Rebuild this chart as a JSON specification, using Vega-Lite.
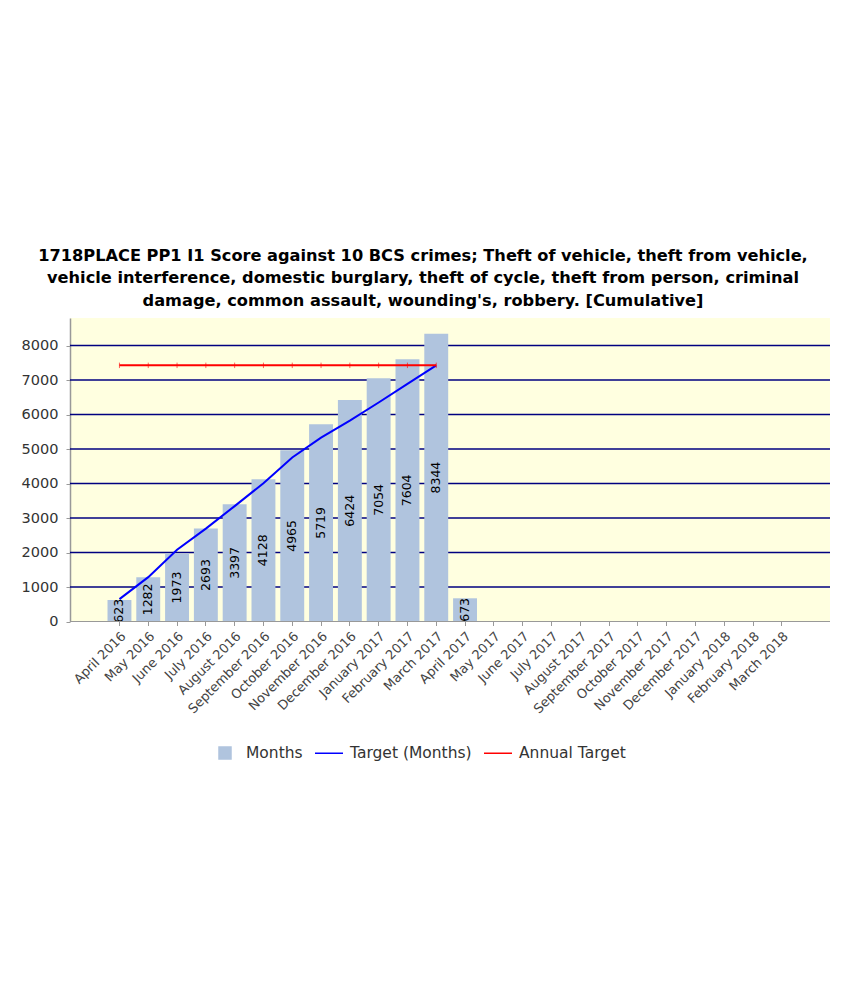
{
  "$schema": "https://vega.github.io/schema/vega-lite/v6.json",
  "width": 760,
  "height": 303.5,
  "autosize": {"type": "none"},
  "padding": {"left": 70, "top": 318, "right": 15, "bottom": 176.5},
  "background": "white",
  "title": {
    "text": [
      "1718PLACE PP1 I1 Score against 10 BCS crimes; Theft of vehicle, theft from vehicle,",
      "vehicle interference, domestic burglary, theft of cycle, theft from person, criminal",
      "damage, common assault, wounding's, robbery. [Cumulative]"
    ],
    "font": "DejaVu Sans",
    "fontSize": 16.2,
    "fontWeight": "bold",
    "color": "#000000",
    "lineHeight": 22.5,
    "anchor": "middle",
    "dx": -27,
    "offset": 9
  },
  "config": {
    "view": {"fill": "#FFFFE0", "stroke": null},
    "font": "DejaVu Sans"
  },
  "datasets": {
    "gridlines": [
      {"level": 1000}, {"level": 2000}, {"level": 3000}, {"level": 4000},
      {"level": 5000}, {"level": 6000}, {"level": 7000}, {"level": 8000}
    ]
  },
  "data": {
    "values": [
      {"month": "April 2016", "months": 623, "target": 649, "annual": 7427},
      {"month": "May 2016", "months": 1282, "target": 1286, "annual": 7427},
      {"month": "June 2016", "months": 1973, "target": 2079, "annual": 7427},
      {"month": "July 2016", "months": 2693, "target": 2693, "annual": 7427},
      {"month": "August 2016", "months": 3397, "target": 3346, "annual": 7427},
      {"month": "September 2016", "months": 4128, "target": 4009, "annual": 7427},
      {"month": "October 2016", "months": 4965, "target": 4757, "annual": 7427},
      {"month": "November 2016", "months": 5719, "target": 5331, "annual": 7427},
      {"month": "December 2016", "months": 6424, "target": 5823, "annual": 7427},
      {"month": "January 2017", "months": 7054, "target": 6350, "annual": 7427},
      {"month": "February 2017", "months": 7604, "target": 6888, "annual": 7427},
      {"month": "March 2017", "months": 8344, "target": 7427, "annual": 7427},
      {"month": "April 2017", "months": 673, "target": null, "annual": null},
      {"month": "May 2017", "months": null, "target": null, "annual": null},
      {"month": "June 2017", "months": null, "target": null, "annual": null},
      {"month": "July 2017", "months": null, "target": null, "annual": null},
      {"month": "August 2017", "months": null, "target": null, "annual": null},
      {"month": "September 2017", "months": null, "target": null, "annual": null},
      {"month": "October 2017", "months": null, "target": null, "annual": null},
      {"month": "November 2017", "months": null, "target": null, "annual": null},
      {"month": "December 2017", "months": null, "target": null, "annual": null},
      {"month": "January 2018", "months": null, "target": null, "annual": null},
      {"month": "February 2018", "months": null, "target": null, "annual": null},
      {"month": "March 2018", "months": null, "target": null, "annual": null}
    ]
  },
  "encoding": {
    "x": {
      "field": "month",
      "type": "nominal",
      "sort": null,
      "scale": {
        "domain": ["April 2016", "May 2016", "June 2016", "July 2016", "August 2016", "September 2016", "October 2016", "November 2016", "December 2016", "January 2017", "February 2017", "March 2017", "April 2017", "May 2017", "June 2017", "July 2017", "August 2017", "September 2017", "October 2017", "November 2017", "December 2017", "January 2018", "February 2018", "March 2018"],
        "range": [37.5, 723.8],
        "paddingInner": 0.17,
        "paddingOuter": 0
      },
      "axis": {
        "title": null,
        "labelAngle": -45,
        "labelFont": "DejaVu Sans",
        "labelFontSize": 13,
        "labelColor": "#444444",
        "labelPadding": 4,
        "tickSize": 4,
        "tickColor": "#999999",
        "domain": false,
        "grid": false,
        "zindex": 1
      }
    }
  },
  "layer": [
    {
      "data": {"name": "gridlines"},
      "mark": {"type": "rule", "color": "#000080", "strokeWidth": 1.5},
      "encoding": {
        "y": {"field": "level", "type": "quantitative"},
        "x": null
      }
    },
    {
      "mark": {"type": "bar"},
      "encoding": {
        "y": {
          "field": "months",
          "type": "quantitative",
          "scale": {"domain": [0, 8800], "nice": false},
          "axis": {
            "title": null,
            "values": [0, 1000, 2000, 3000, 4000, 5000, 6000, 7000, 8000],
            "tickCount": 9,
            "labelOverlap": false,
            "format": "d",
            "labelFont": "DejaVu Sans",
            "labelFontSize": 14.5,
            "labelColor": "#333333",
            "labelPadding": 8,
            "tickSize": 4,
            "tickColor": "#999999",
            "domainColor": "#999999",
            "domainWidth": 1.5,
            "grid": false
          }
        },
        "color": {
          "datum": "Months",
          "type": "nominal",
          "scale": {
            "domain": ["Months", "Target (Months)", "Annual Target"],
            "range": ["#B0C4DE", "#0000FF", "#FF0000"]
          },
          "legend": {
            "orient": "none",
            "legendX": 140,
            "legendY": 420,
            "direction": "horizontal",
            "title": null,
            "symbolType": "stroke",
            "symbolSize": 784,
            "symbolStrokeWidth": 1.5,
            "labelFont": "DejaVu Sans",
            "labelFontSize": 15.5,
            "labelColor": "#333333",
            "labelOffset": 6,
            "columnPadding": 9,
            "padding": 0,
            "encode": {
              "symbols": {
                "update": {
                  "shape": {"signal": "datum.value === 'Months' ? 'square' : 'stroke'"},
                  "size": {"signal": "datum.value === 'Months' ? 144 : 784"},
                  "fill": {"signal": "datum.value === 'Months' ? '#B0C4DE' : 'transparent'"},
                  "stroke": {"signal": "datum.value === 'Months' ? 'transparent' : (datum.value === 'Target (Months)' ? '#0000FF' : '#FF0000')"},
                  "strokeWidth": {"value": 1.5},
                  "opacity": {"value": 1}
                }
              }
            }
          }
        }
      }
    },
    {
      "mark": {"type": "text", "angle": 270, "fontSize": 12.5, "font": "DejaVu Sans", "color": "#000000", "clip": true, "baseline": "middle", "align": "center"},
      "encoding": {
        "y": {"field": "months", "type": "quantitative", "stack": "zero", "bandPosition": 0.5},
        "text": {"field": "months", "type": "quantitative", "format": "d"}
      }
    },
    {
      "mark": {"type": "line", "strokeWidth": 2},
      "encoding": {
        "y": {"field": "target", "type": "quantitative"},
        "color": {"datum": "Target (Months)", "type": "nominal"}
      }
    },
    {
      "mark": {"type": "line", "strokeWidth": 2},
      "encoding": {
        "y": {"field": "annual", "type": "quantitative"},
        "color": {"datum": "Annual Target", "type": "nominal"}
      }
    },
    {
      "mark": {"type": "point", "shape": "stroke", "angle": 90, "size": 30, "color": "#FF0000", "strokeWidth": 1, "opacity": 0.6, "filled": false},
      "encoding": {
        "y": {"field": "annual", "type": "quantitative"}
      }
    },
    {
      "mark": {"type": "rule", "color": "#999999", "strokeWidth": 1},
      "encoding": {
        "y": {"datum": 0, "type": "quantitative"},
        "x": null
      }
    }
  ]
}
